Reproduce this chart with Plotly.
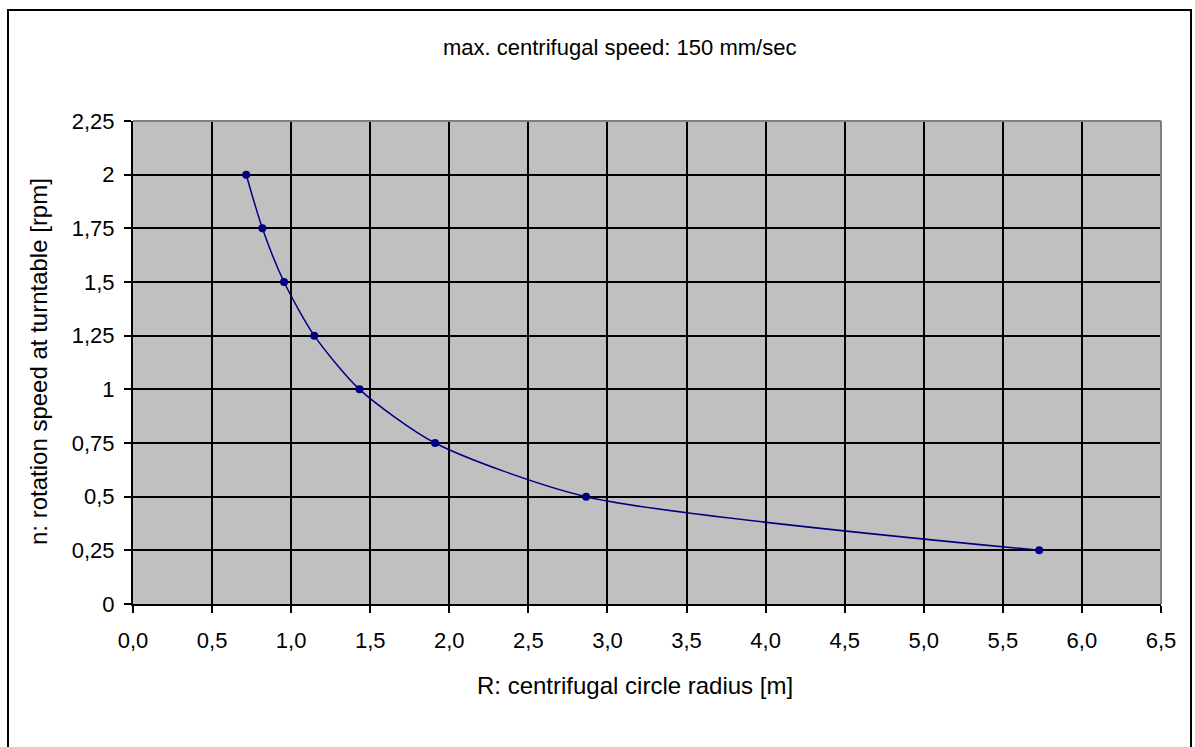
import plotly.graph_objects as go

# Data
radius_m = [0.716, 0.818, 0.955, 1.146, 1.432, 1.910, 2.865, 5.730]
rpm = [2.0, 1.75, 1.5, 1.25, 1.0, 0.75, 0.5, 0.25]

x_tick_vals = [0, 0.5, 1, 1.5, 2, 2.5, 3, 3.5, 4, 4.5, 5, 5.5, 6, 6.5]
x_tick_text = ["0,0", "0,5", "1,0", "1,5", "2,0", "2,5", "3,0", "3,5", "4,0", "4,5", "5,0", "5,5", "6,0", "6,5"]
y_tick_vals = [0, 0.25, 0.5, 0.75, 1, 1.25, 1.5, 1.75, 2, 2.25]
y_tick_text = ["0", "0,25", "0,5", "0,75", "1", "1,25", "1,5", "1,75", "2", "2,25"]

title_text = "max. centrifugal speed: 150 mm/sec"
x_title = "R: centrifugal circle radius [m]"
y_title = "n: rotation speed at turntable [rpm]"

FONT = "Liberation Sans, Arial, sans-serif"
W, H = 1195, 747
L, R, T, B = 133, 1161, 121, 604
pw, ph = R - L, B - T

def px(x):
    return (x - L) / pw

def py(y):
    return (B - y) / ph

fig = go.Figure()
fig.add_trace(go.Scatter(
    x=radius_m, y=rpm, mode="lines+markers",
    line=dict(color="#000080", width=1.5, shape="spline", smoothing=0.7),
    marker=dict(color="#000080", size=8),
    hoverinfo="skip", showlegend=False,
))

fig.update_layout(
    width=W, height=H,
    margin=dict(l=L, r=W - R, t=T, b=H - B, pad=0),
    paper_bgcolor="white", plot_bgcolor="#C0C0C0",
    font=dict(family=FONT, size=22, color="black"),
    xaxis=dict(range=[0, 6.5], tickvals=x_tick_vals, ticktext=x_tick_text,
               showgrid=True, gridcolor="black", gridwidth=2,
               showline=True, linecolor="black", linewidth=2,
               ticks="outside", ticklen=7, tickwidth=2, tickcolor="black",
               zeroline=False, fixedrange=True, ticklabelstandoff=9),
    yaxis=dict(range=[0, 2.25], tickvals=y_tick_vals, ticktext=y_tick_text,
               showgrid=True, gridcolor="black", gridwidth=2,
               showline=True, linecolor="black", linewidth=2,
               ticks="outside", ticklen=7, tickwidth=2, tickcolor="black",
               zeroline=False, fixedrange=True, ticklabelstandoff=5),
    shapes=[
        dict(type="line", xref="paper", yref="paper", x0=0, x1=1, y0=1, y1=1,
             line=dict(color="#808080", width=2), layer="above"),
        dict(type="line", xref="paper", yref="paper", x0=1, x1=1, y0=0, y1=1,
             line=dict(color="#808080", width=2), layer="above"),
        dict(type="rect", xref="paper", yref="paper",
             x0=px(8), x1=px(1191), y0=py(10), y1=py(752),
             line=dict(color="black", width=2), fillcolor="rgba(0,0,0,0)", layer="above"),
    ],
    annotations=[
        dict(text=title_text, xref="paper", yref="paper", x=px(619), y=py(47),
             xanchor="center", yanchor="middle", showarrow=False, font=dict(size=22)),
        dict(text=x_title, xref="paper", yref="paper", x=px(635), y=py(685),
             xanchor="center", yanchor="middle", showarrow=False, font=dict(size=24)),
        dict(text=y_title, xref="paper", yref="paper", x=px(38), y=py(362),
             xanchor="center", yanchor="middle", showarrow=False, textangle=-90,
             font=dict(size=24)),
    ],
)

fig.write_html("out.html", config={"displayModeBar": False},
               post_script="document.body.style.margin='0';document.body.style.overflow='hidden';")
